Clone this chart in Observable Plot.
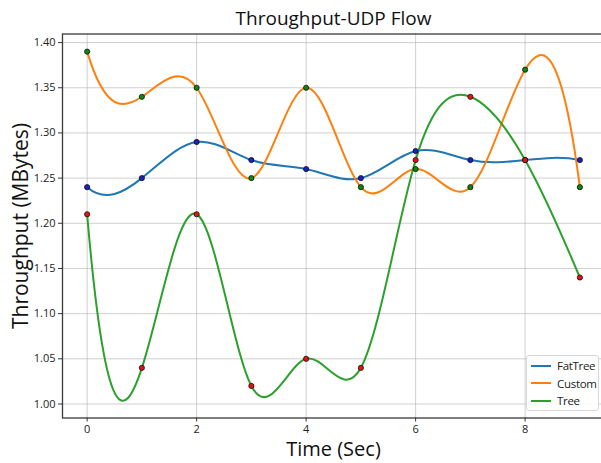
<!DOCTYPE html>
<html>
<head>
<meta charset="utf-8">
<script src="https://cdn.jsdelivr.net/npm/d3@7"></script>
<script src="https://cdn.jsdelivr.net/npm/@observablehq/plot@0.6"></script>
<style>
  html, body { margin: 0; padding: 0; background: #fff; }
  #wrap { position: relative; width: 601px; height: 463px; overflow: hidden; font-family: "Open Sans", sans-serif; }
  #legend { position: absolute; left: 526px; top: 355px; width: 73px; height: 56px; border: 1px solid #d8d8d8; border-radius: 3px; background: rgba(255,255,255,0.85); box-sizing: border-box; }
  .row { position: absolute; left: 0; height: 17px; display: flex; align-items: center; font-size: 11.5px; letter-spacing: -0.3px; color: #222; white-space: nowrap; }
  .sw { width: 20px; height: 0; border-top: 2px solid; margin-left: 4px; margin-right: 6px; }
</style>
</head>
<body>
<div id="wrap"></div>
<script>
const times = [0, 1, 2, 3, 4, 5, 6, 7, 8, 9];
const seriesNames = ["FatTree", "Custom", "Tree"];
const fatTree = [1.24, 1.25, 1.29, 1.27, 1.26, 1.25, 1.28, 1.27, 1.27, 1.27];
const custom  = [1.39, 1.34, 1.35, 1.25, 1.35, 1.24, 1.26, 1.24, 1.37, 1.24];
const tree    = [1.21, 1.04, 1.21, 1.02, 1.05, 1.04, 1.27, 1.34, 1.27, 1.14];
const lineColors = ["#1f77b4", "#ff7f0e", "#2ca02c"];
const dotColors = ["#1c1cc8", "#0a8a0a", "#e81010"];
const xTicks = [0, 2, 4, 6, 8];
const yTicks = [1.00, 1.05, 1.10, 1.15, 1.20, 1.25, 1.30, 1.35, 1.40];

const values = [fatTree, custom, tree];
const data = [];
seriesNames.forEach((s, k) => times.forEach((t, i) => data.push({series: s, t, v: values[k][i], dot: dotColors[k]})));

// not-a-knot cubic spline curve (like scipy make_interp_spline)
function notAKnot(context) {
  let xs, ys;
  return {
    areaStart() {}, areaEnd() {},
    lineStart() { xs = []; ys = []; },
    point(x, y) { xs.push(+x); ys.push(+y); },
    lineEnd() {
      const n = xs.length;
      if (!n) return;
      context.moveTo(xs[0], ys[0]);
      if (n < 4) { for (let i = 1; i < n; i++) context.lineTo(xs[i], ys[i]); return; }
      const h = [];
      for (let i = 0; i < n - 1; i++) h.push(xs[i + 1] - xs[i]);
      const A = Array.from({length: n}, () => new Array(n).fill(0));
      const b = new Array(n).fill(0);
      A[0][0] = h[1]; A[0][1] = -(h[0] + h[1]); A[0][2] = h[0];
      for (let i = 1; i < n - 1; i++) {
        A[i][i - 1] = h[i - 1]; A[i][i] = 2 * (h[i - 1] + h[i]); A[i][i + 1] = h[i];
        b[i] = 6 * ((ys[i + 1] - ys[i]) / h[i] - (ys[i] - ys[i - 1]) / h[i - 1]);
      }
      A[n - 1][n - 3] = h[n - 2]; A[n - 1][n - 2] = -(h[n - 3] + h[n - 2]); A[n - 1][n - 1] = h[n - 3];
      for (let c = 0; c < n; c++) {
        let p = c;
        for (let r = c + 1; r < n; r++) if (Math.abs(A[r][c]) > Math.abs(A[p][c])) p = r;
        [A[c], A[p]] = [A[p], A[c]]; [b[c], b[p]] = [b[p], b[c]];
        for (let r = c + 1; r < n; r++) {
          const f = A[r][c] / A[c][c];
          if (!f) continue;
          for (let k = c; k < n; k++) A[r][k] -= f * A[c][k];
          b[r] -= f * b[c];
        }
      }
      const M = new Array(n).fill(0);
      for (let r = n - 1; r >= 0; r--) {
        let s = b[r];
        for (let k = r + 1; k < n; k++) s -= A[r][k] * M[k];
        M[r] = s / A[r][r];
      }
      for (let i = 0; i < n - 1; i++) {
        const hh = h[i], sl = (ys[i + 1] - ys[i]) / hh;
        const d0 = sl - hh * (2 * M[i] + M[i + 1]) / 6;
        const d1 = sl + hh * (M[i] + 2 * M[i + 1]) / 6;
        context.bezierCurveTo(xs[i] + hh / 3, ys[i] + d0 * hh / 3, xs[i + 1] - hh / 3, ys[i + 1] - d1 * hh / 3, xs[i + 1], ys[i + 1]);
      }
    }
  };
}

const chart = Plot.plot({
  width: 601,
  height: 463,
  marginLeft: 62,
  marginRight: -3,
  marginTop: 33.5,
  marginBottom: 45.5,
  style: {fontFamily: "Open Sans, sans-serif", background: "white", overflow: "visible"},
  x: {domain: [-0.45, 9.45]},
  y: {domain: [0.9845, 1.4095]},
  color: {domain: seriesNames, range: lineColors},
  marks: [
    Plot.gridX(xTicks, {stroke: "#b0b0b0", strokeOpacity: 0.6, strokeWidth: 1}),
    Plot.gridY(yTicks, {stroke: "#b0b0b0", strokeOpacity: 0.6, strokeWidth: 1}),
    Plot.frame({stroke: "#3a3a3a", strokeWidth: 1.3}),
    Plot.axisX(xTicks, {tickSize: 4, tickPadding: 3, fontSize: 11, label: null, stroke: "#333", color: "#222"}),
    Plot.axisY(yTicks, {tickSize: 4, tickPadding: 3, fontSize: 11, label: null, tickFormat: d3.format(".2f"), stroke: "#333", color: "#222"}),
    Plot.line(data, {x: "t", y: "v", stroke: "series", strokeWidth: 2, curve: notAKnot}),
    Plot.dot(data, {x: "t", y: "v", r: 2.6, fill: "dot", stroke: "#111", strokeWidth: 0.8}),
    Plot.text(["Throughput-UDP Flow"], {frameAnchor: "top", dy: -15, fontSize: 19, lineAnchor: "middle", fill: "#111"}),
    Plot.text(["Time (Sec)"], {frameAnchor: "bottom", dy: 32, fontSize: 20, lineAnchor: "middle", fill: "#111"}),
    Plot.text(["Throughput (MBytes)"], {frameAnchor: "left", dx: -41, rotate: -90, fontSize: 21, lineAnchor: "middle", textAnchor: "middle", fill: "#111"})
  ]
});
const wrap = document.getElementById("wrap");
wrap.appendChild(chart);

const legend = document.createElement("div");
legend.id = "legend";
seriesNames.forEach((s, k) => {
  const row = document.createElement("div");
  row.className = "row";
  row.style.top = (1 + k * 17.5) + "px";
  const sw = document.createElement("span");
  sw.className = "sw";
  sw.style.borderTopColor = lineColors[k];
  const lab = document.createElement("span");
  lab.textContent = s;
  row.appendChild(sw); row.appendChild(lab);
  legend.appendChild(row);
});
wrap.appendChild(legend);
</script>
</body>
</html>
